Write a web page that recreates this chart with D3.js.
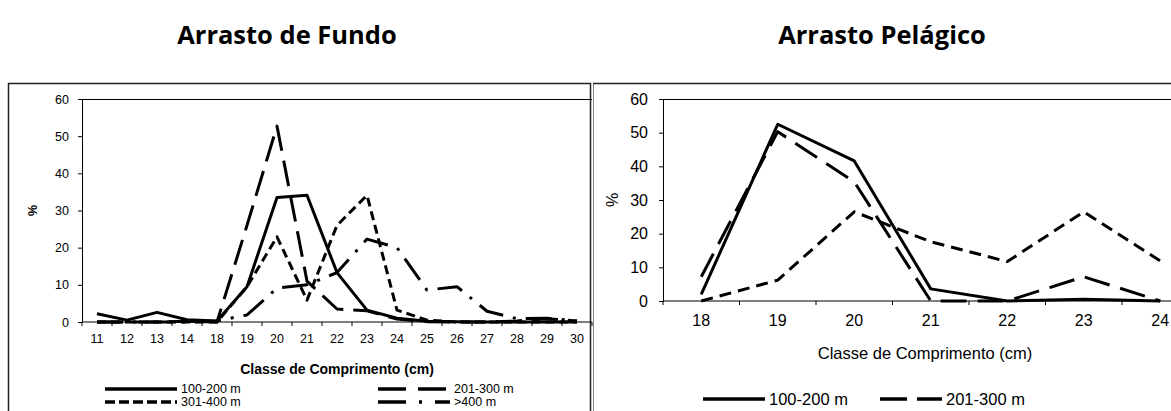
<!DOCTYPE html>
<html>
<head>
<meta charset="utf-8">
<script src="https://cdn.jsdelivr.net/npm/d3@7"></script>
<style>
  body { margin: 0; background: #fff; }
  svg { display: block; }
  text { font-family: "Liberation Sans", Arial, sans-serif; fill: #000; }
</style>
</head>
<body>
<svg id="chart" width="1171" height="411"></svg>
<script>
// Arrasto de Fundo
var fundoClasses = ['11', '12', '13', '14', '18', '19', '20', '21', '22', '23', '24', '25', '26', '27', '28', '29', '30'];
var fundo100_200 = [2.2, 0.5, 2.6, 0.6, 0.3, 9.5, 33.5, 34.1, 13.3, 3.2, 1.0, 0.2, 0.1, 0, 0, 0, 0];
var fundo201_300 = [0, 0, 0, 0.2, 0, 26, 52.7, 11, 3.5, 3, 0.8, 0.1, 0, 0, 0.3, 0.9, 0.3];
var fundo301_400 = [0, 0, 0, 0, 0, 9.5, 22.9, 5.9, 26, 34.1, 3.2, 0.5, 0, 0, 0, 0, 0];
var fundoMais400 = [0, 0, 0, 0, 0.3, 1.9, 9.1, 10, 13.3, 22.3, 20, 8.6, 9.5, 2.9, 0.9, 1.0, 0.3];

// Arrasto Pelagico
var pelagicoClasses = ['18', '19', '20', '21', '22', '23', '24'];
var pelagico100_200 = [2, 52.5, 41.6, 3.6, 0, 0.5, 0];
var pelagico201_300 = [7.2, 50.3, 35.4, 0, 0, 7.2, 0];
var pelagico301_400 = [0, 6.2, 26.5, 17.6, 11.7, 26.5, 11.9];

var yTicks = [0, 10, 20, 30, 40, 50, 60];
var legendNames = ['100-200 m', '201-300 m', '301-400 m', '>400 m'];

var svg = d3.select('#chart');

// titles above the two boxes
svg.append('text').attr('x', 287).attr('y', 44).attr('text-anchor', 'middle')
  .style('font-family', '"Open Sans", sans-serif').style('font-weight', 'bold').style('font-size', '25.5px')
  .text('Arrasto de Fundo');
svg.append('text').attr('x', 882).attr('y', 44).attr('text-anchor', 'middle')
  .style('font-family', '"Open Sans", sans-serif').style('font-weight', 'bold').style('font-size', '25.5px')
  .text('Arrasto Pelágico');

// outer frames
svg.append('rect').attr('x', 8.5).attr('y', 83.5).attr('width', 582).attr('height', 340)
  .attr('fill', 'none').attr('stroke', '#222').attr('stroke-width', 1.5);
svg.append('rect').attr('x', 593.5).attr('y', 83.5).attr('width', 600).attr('height', 340)
  .attr('fill', 'none').attr('stroke', '#888').attr('stroke-width', 1);
svg.append('line').attr('x1', 593).attr('x2', 1171).attr('y1', 83.5).attr('y2', 83.5)
  .attr('stroke', '#222').attr('stroke-width', 1.5);

function drawPanel (cfg) {
  var x = d3.scaleBand().domain(cfg.classes).range([cfg.left, cfg.right]).padding(0);
  var y = d3.scaleLinear().domain([0, 60]).range([cfg.bottom, cfg.top]);
  var g = svg.append('g');

  // top border of the plot area
  g.append('line').attr('x1', cfg.left).attr('x2', cfg.right)
    .attr('y1', cfg.top + 0.5).attr('y2', cfg.top + 0.5)
    .attr('stroke', '#000').attr('stroke-width', 1);

  var yAxis = g.append('g').attr('transform', 'translate(' + cfg.left + ',0)')
    .call(d3.axisLeft(y).tickValues(yTicks).tickSize(4).tickPadding(cfg.yPad));
  yAxis.selectAll('text').style('font-size', cfg.font + 'px').style('font-family', '"Liberation Sans", Arial, sans-serif');

  var xAxis = g.append('g').attr('transform', 'translate(0,' + cfg.bottom + ')')
    .call(d3.axisBottom(x).tickSize(0).tickPadding(cfg.xPad));
  xAxis.select('.domain').remove();
  xAxis.selectAll('text').style('font-size', cfg.font + 'px').style('font-family', '"Liberation Sans", Arial, sans-serif');

  // ticks sit between the classes
  var bounds = cfg.classes.map(function (c) { return x(c); }).concat([cfg.right]);
  g.selectAll('.xtick').data(bounds).enter().append('line')
    .attr('x1', function (d) { return d; }).attr('x2', function (d) { return d; })
    .attr('y1', cfg.bottom).attr('y2', cfg.bottom + 4)
    .attr('stroke', '#000');
  g.append('line').attr('x1', cfg.left).attr('x2', cfg.right)
    .attr('y1', cfg.bottom).attr('y2', cfg.bottom).attr('stroke', '#000').attr('stroke-width', 1.2);

  g.append('text')
    .attr('transform', 'translate(' + cfg.pctX + ',' + ((cfg.top + cfg.bottom) / 2) + ') rotate(-90)')
    .attr('text-anchor', 'middle').attr('dy', '0.35em')
    .style('font-size', cfg.font + 'px').style('font-weight', cfg.bold ? 'bold' : 'normal')
    .text('%');

  g.append('text').attr('x', cfg.titleX).attr('y', cfg.titleY).attr('text-anchor', 'middle').attr('dy', '0.35em')
    .style('font-size', cfg.titleFont + 'px').style('font-weight', cfg.bold ? 'bold' : 'normal')
    .text('Classe de Comprimento (cm)');

  var line = d3.line()
    .x(function (d, i) { return x(cfg.classes[i]) + x.bandwidth() / 2; })
    .y(function (d) { return y(d); });

  cfg.series.forEach(function (s) {
    g.append('path').datum(s.values)
      .attr('d', line)
      .attr('fill', 'none').attr('stroke', '#000')
      .attr('stroke-width', 3).attr('stroke-linejoin', 'round')
      .attr('stroke-dasharray', s.dash);
  });

  // legend (the pelagic one is cut after two entries in the source)
  cfg.series.filter(function (s) { return s.lx !== undefined; }).forEach(function (s) {
    g.append('line').attr('x1', s.lx).attr('x2', s.lx + cfg.legLen)
      .attr('y1', s.ly).attr('y2', s.ly)
      .attr('stroke', '#000').attr('stroke-width', 3.5).attr('stroke-dasharray', s.legDash || s.dash);
    g.append('text').attr('x', s.lx + cfg.legLen + 4).attr('y', s.ly).attr('dy', '0.35em')
      .style('font-size', cfg.legFont + 'px').text(s.name);
  });
}

drawPanel({
  classes: fundoClasses, left: 82, right: 592, top: 99, bottom: 322,
  font: 12.5, yPad: 9, xPad: 12, pctX: 33, bold: true,
  titleX: 337, titleY: 369, titleFont: 14, legLen: 72, legFont: 12.5,
  series: [
    { name: legendNames[0], values: fundo100_200, dash: null, lx: 105, ly: 389 },
    { name: legendNames[1], values: fundo201_300, dash: '26,10', legDash: '28,12', lx: 378, ly: 389 },
    { name: legendNames[2], values: fundo301_400, dash: '9,5', legDash: '10,4', lx: 105, ly: 402 },
    { name: legendNames[3], values: fundoMais400, dash: '26,10,3,10', legDash: '28,13,3,13', lx: 378, ly: 402 }
  ]
});

drawPanel({
  classes: pelagicoClasses, left: 663, right: 1198.5, top: 99, bottom: 301,
  font: 16, yPad: 11, xPad: 14, pctX: 612, bold: false,
  titleX: 925, titleY: 353, titleFont: 16.5, legLen: 62, legFont: 16.5,
  series: [
    { name: legendNames[0], values: pelagico100_200, dash: null, lx: 703, ly: 399 },
    { name: legendNames[1], values: pelagico201_300, dash: '26,11', legDash: '27,10', lx: 880, ly: 399 },
    { name: legendNames[2], values: pelagico301_400, dash: '12,7' }
  ]
});
</script>
</body>
</html>
